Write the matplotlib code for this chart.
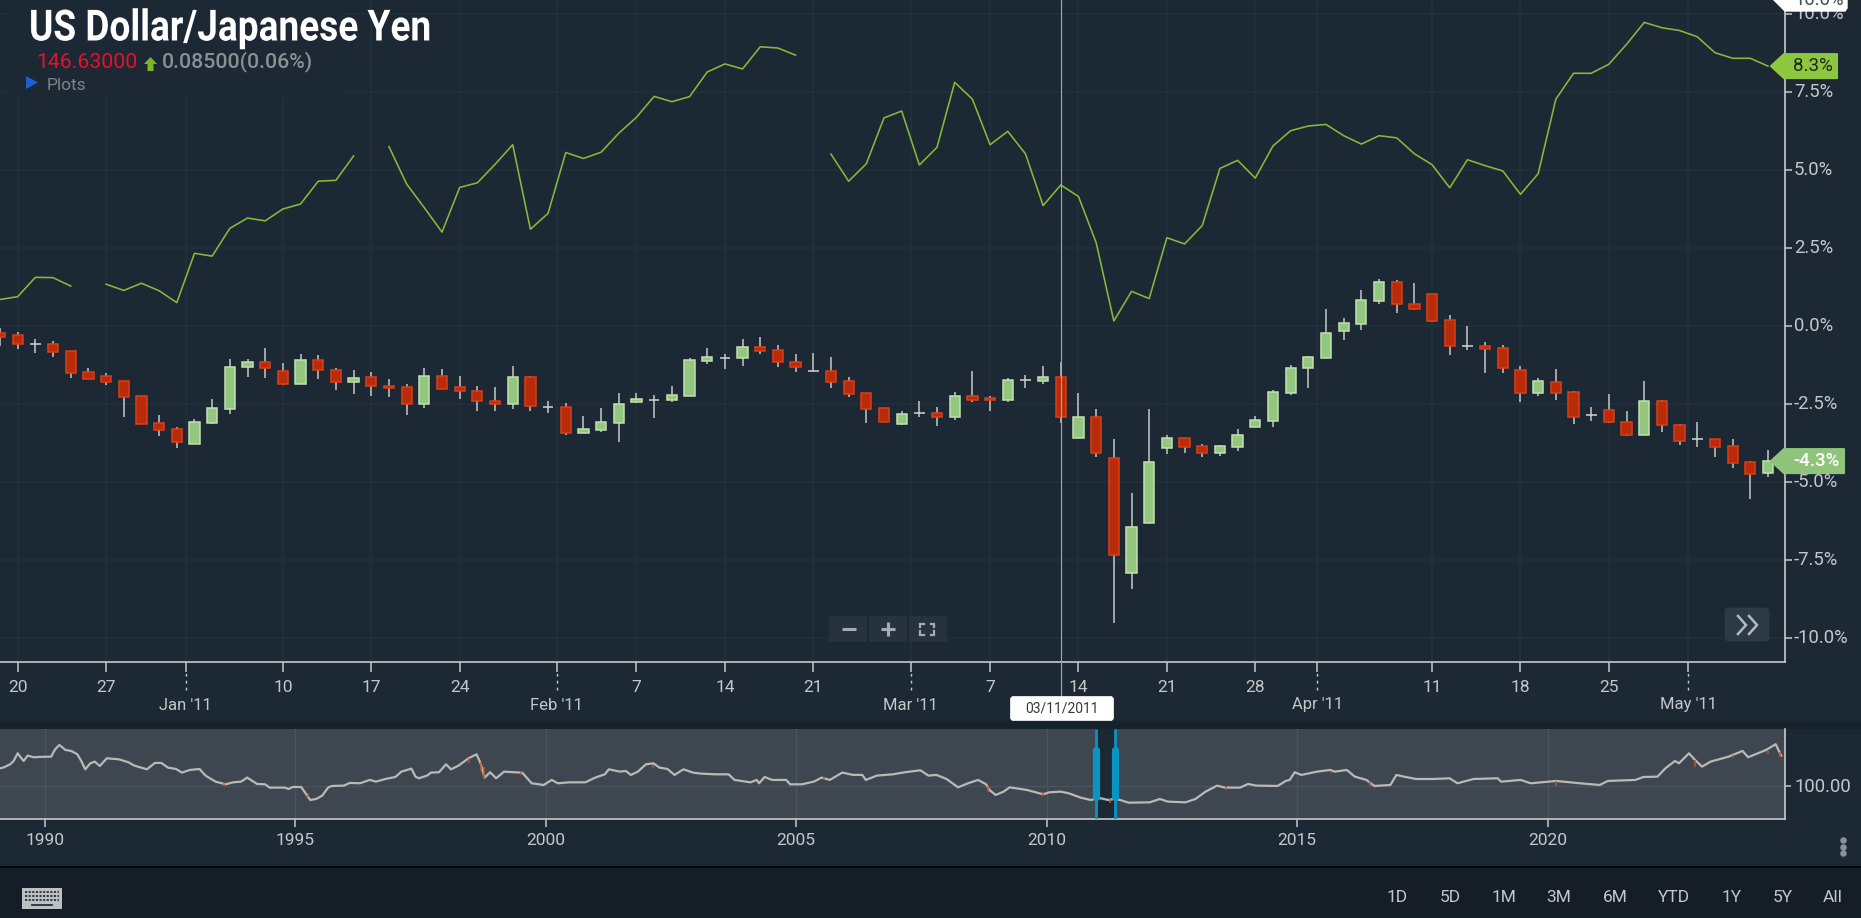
import numpy as np
import matplotlib
matplotlib.use('Agg')
import matplotlib.pyplot as plt
import matplotlib.patheffects as pe
from matplotlib.patches import Polygon, Rectangle, FancyBboxPatch
from matplotlib.transforms import Affine2D, ScaledTranslation

plt.rcParams['font.family'] = ['Roboto', 'DejaVu Sans']

# daily candles, percent change from start of the window
highs = [-.07,-.18,-.43,-.47,-.81,-1.34,-1.52,-1.77,-2.25,-2.86,
         -3.25,-2.97,-2.34,-1.05,-1.05,-.72,-1.20,-.91,-.94,-1.34,
         -1.42,-1.49,-1.71,-1.86,-1.34,-1.38,-1.61,-1.91,-1.97,-1.28,
         -1.61,-2.39,-2.47,-2.87,-2.64,-2.16,-2.16,-2.20,-1.91,-1.04,
         -.72,-.91,-.43,-.36,-.62,-.91,-.85,-1.00,-1.62,-2.16,
         -2.64,-2.74,-2.39,-2.59,-2.10,-1.43,-2.25,-1.68,-1.58,-1.29,
         -1.14,-2.16,-2.67,-3.63,-5.36,-2.67,-3.49,-3.60,-3.79,-3.81,
         -3.30,-2.87,-2.06,-1.24,-.95,.53,.26,1.16,1.50,1.46,
         1.37,1.01,.35,.01,-.52,-.62,-1.29,-1.68,-1.39,-2.09,
         -2.59,-2.19,-2.72,-1.76,-2.37,-3.15,-3.07,-3.61,-3.63,-4.33,
         -3.97]
lows = [-.64,-.75,-.88,-.98,-1.66,-1.71,-1.90,-2.91,-3.15,-3.54,
        -3.92,-3.77,-3.14,-2.81,-1.62,-1.66,-1.90,-1.85,-1.71,-2.04,
        -2.19,-2.23,-2.29,-2.86,-2.63,-2.03,-2.33,-2.71,-2.71,-2.67,
        -2.71,-2.78,-3.48,-3.44,-3.39,-3.73,-2.48,-2.96,-2.43,-2.23,
        -1.23,-1.37,-1.27,-.89,-1.32,-1.46,-1.45,-2.00,-2.29,-3.10,
        -3.09,-3.16,-2.91,-3.19,-3.00,-2.43,-2.71,-2.43,-2.00,-1.85,
        -3.10,-3.58,-4.21,-9.53,-8.44,-6.32,-4.11,-4.06,-4.21,-4.16,
        -4.02,-3.25,-3.25,-2.20,-2.00,-1.04,-.46,-.13,.69,.41,
        .50,.12,-.94,-.78,-1.52,-1.52,-2.43,-2.23,-2.38,-3.15,
        -3.06,-3.10,-3.53,-3.48,-3.39,-3.82,-3.87,-4.21,-4.54,-5.55,
        -4.83]
opens = [-.24,-.28,-.58,-.58,-.81,-1.49,-1.59,-1.77,-2.25,-3.12,
         -3.31,-3.77,-3.10,-2.66,-1.31,-1.15,-1.43,-1.85,-1.10,-1.40,
         -1.79,-1.62,-1.91,-1.97,-2.51,-1.59,-1.97,-2.07,-2.39,-2.51,
         -1.63,-2.60,-2.60,-3.43,-3.33,-3.10,-2.43,-2.36,-2.37,-2.23,
         -1.13,-1.01,-1.04,-.67,-.77,-1.15,-1.44,-1.43,-1.77,-2.16,
         -2.64,-3.15,-2.79,-2.78,-2.91,-2.25,-2.30,-2.37,-1.73,-1.75,
         -1.62,-3.58,-2.93,-4.22,-7.91,-6.32,-3.92,-3.60,-3.85,-4.06,
         -3.87,-3.25,-3.06,-2.14,-1.36,-1.04,-.16,.07,.79,1.40,
         .72,1.01,.20,-.64,-.63,-.72,-1.40,-2.14,-1.78,-2.12,
         -2.84,-2.69,-3.08,-3.48,-2.40,-3.17,-3.62,-3.61,-3.85,-4.36,
         -4.72]
closes = [-.36,-.59,-.58,-.83,-1.50,-1.70,-1.78,-2.28,-3.14,-3.33,
          -3.72,-3.08,-2.64,-1.30,-1.14,-1.36,-1.85,-1.10,-1.41,-1.79,
          -1.68,-1.93,-2.00,-2.51,-1.59,-2.03,-2.07,-2.41,-2.51,-1.63,
          -2.56,-2.60,-3.42,-3.31,-3.08,-2.50,-2.35,-2.36,-2.21,-1.10,
          -1.00,-1.01,-.66,-.79,-1.16,-1.31,-1.44,-1.79,-2.18,-2.66,
          -3.09,-2.83,-2.79,-2.91,-2.25,-2.37,-2.37,-1.72,-1.73,-1.62,
          -2.91,-2.93,-4.06,-7.33,-6.43,-4.37,-3.60,-3.87,-4.06,-3.85,
          -3.50,-3.02,-2.10,-1.35,-1.00,-.24,.11,.82,1.40,.71,
          .56,.17,-.64,-.64,-.74,-1.36,-2.14,-1.77,-2.14,-2.91,
          -2.84,-3.09,-3.48,-2.40,-3.18,-3.68,-3.62,-3.87,-4.39,-4.73,
          -4.33]

# comparison series, gaps on holidays
nan = np.nan
compare = [.85,.94,1.56,1.55,1.28,nan,1.34,1.14,1.37,1.13,
           .75,2.33,2.24,3.13,3.46,3.37,3.75,3.91,4.64,4.67,
           5.45,nan,5.75,4.55,3.79,3.01,4.44,4.59,5.18,5.81,
           3.10,3.61,5.56,5.37,5.57,6.18,6.69,7.36,7.19,7.35,
           8.14,8.40,8.24,8.95,8.91,8.68,nan,5.51,4.64,5.20,
           6.67,6.89,5.16,5.73,7.81,7.27,5.81,6.24,5.52,3.86,
           4.52,4.15,2.67,.16,1.11,.88,2.83,2.63,3.22,5.05,
           5.31,4.74,5.77,6.26,6.41,6.46,6.10,5.83,6.10,6.03,
           5.52,5.17,4.43,5.33,5.14,4.97,4.22,4.88,7.27,8.10,
           8.10,8.39,9.03,9.73,9.56,9.47,9.27,8.76,8.58,8.58,
           8.33]

week_pos = [1, 6, 16, 21, 26, 36, 41, 46, 56, 61, 66, 71, 81, 86, 91]
week_labels = ['20', '27', '10', '17', '24', '7', '14', '21', '7', '14', '21', '28', '11', '18', '25']
month_pos = [10.5, 31.5, 51.5, 74.5, 95.5]
month_labels = ["Jan '11", "Feb '11", "Mar '11", "Apr '11", "May '11"]
pct_ticks = [10, 7.5, 5, 2.5, 0, -2.5, -5, -7.5, -10]
cross_pos = 60

# long history strip
hist_years = [1989.11,1989.19,1989.31,1989.38,1989.46,1989.52,1989.58,1989.66,1989.78,1989.90,
              1990.13,1990.20,1990.29,1990.36,1990.41,1990.53,1990.65,1990.73,1990.81,1990.91,
              1991.00,1991.10,1991.24,1991.48,1991.67,1991.79,1992.04,1992.20,1992.33,1992.46,
              1992.62,1992.74,1992.90,1993.09,1993.21,1993.41,1993.61,1993.76,1993.92,1994.04,
              1994.24,1994.40,1994.49,1994.79,1994.87,1994.95,1995.12,1995.22,1995.30,1995.42,
              1995.54,1995.66,1995.74,1995.97,1996.09,1996.29,1996.49,1996.61,1996.80,1997.00,
              1997.12,1997.32,1997.40,1997.47,1997.63,1997.71,1997.87,1998.01,1998.11,1998.26,
              1998.46,1998.62,1998.70,1998.78,1998.89,1999.01,1999.17,1999.37,1999.53,1999.72,
              1999.96,2000.12,2000.24,2000.47,2000.79,2000.99,2001.18,2001.26,2001.48,2001.60,
              2001.70,2001.84,2002.00,2002.15,2002.27,2002.43,2002.57,2002.75,2002.94,2003.10,
              2003.38,2003.65,2003.77,2004.09,2004.21,2004.26,2004.37,2004.52,2004.80,2004.88,
              2005.11,2005.35,2005.51,2005.67,2005.92,2006.14,2006.32,2006.39,2006.61,2006.93,
              2007.17,2007.48,2007.64,2007.80,2008.00,2008.23,2008.43,2008.63,2008.79,2008.86,
              2008.98,2009.14,2009.26,2009.61,2009.93,2010.05,2010.28,2010.44,2010.68,2010.88,
              2010.96,2011.08,2011.23,2011.35,2011.47,2011.63,2012.06,2012.26,2012.42,2012.77,
              2012.97,2013.17,2013.40,2013.56,2013.86,2014.02,2014.18,2014.61,2014.77,2014.85,
              2014.95,2015.08,2015.40,2015.66,2015.75,2015.99,2016.15,2016.38,2016.54,2016.86,
              2016.98,2017.13,2017.37,2017.73,2018.04,2018.20,2018.52,2019.00,2019.07,2019.46,
              2019.66,2020.17,2020.65,2021.04,2021.20,2021.75,2021.91,2022.19,2022.35,2022.54,
              2022.62,2022.82,2022.94,2023.08,2023.25,2023.61,2023.89,2024.00,2024.36,2024.55,
              2024.66]
hist_price = [126.3,127.8,132.1,137.0,148.2,142.4,137.0,144.8,142.4,142.9,
              143.3,153.1,160.4,156.5,153.1,151.6,146.8,137.0,124.8,133.6,
              136.0,129.7,140.9,139.4,135.1,130.2,124.8,134.1,134.1,127.3,
              125.3,120.0,123.9,125.3,115.6,106.8,102.9,105.8,106.8,112.7,
              103.4,102.9,98.1,98.1,96.1,99.0,99.0,88.3,80.0,81.5,
              86.4,98.5,100.5,101.0,104.9,104.4,109.3,106.8,110.7,113.6,
              121.4,125.8,114.1,111.7,115.6,120.0,120.5,132.1,124.8,130.2,
              140.9,146.8,133.6,112.7,120.5,111.7,121.4,120.5,120.0,104.4,
              101.9,109.3,104.4,105.8,105.8,112.7,117.5,124.8,121.4,122.4,
              116.6,121.4,132.1,133.6,127.3,125.3,116.6,124.8,120.0,118.5,
              117.5,117.5,109.3,105.8,109.3,104.4,113.6,109.3,109.3,102.9,
              102.9,106.8,112.7,109.3,120.0,116.6,116.6,109.3,115.6,117.5,
              120.5,123.4,115.6,116.6,110.7,98.5,104.4,109.3,102.9,94.6,
              87.3,92.2,98.5,94.6,88.3,91.2,92.2,89.8,83.4,80.0,
              81.5,82.5,80.0,81.5,80.0,76.1,76.6,81.5,77.6,76.6,
              81.5,92.2,101.0,98.1,98.1,103.4,101.0,100.5,107.8,109.3,
              120.5,116.6,121.4,123.9,121.4,123.9,114.1,109.3,100.5,101.9,
              116.6,114.1,110.7,110.7,111.7,104.4,110.7,111.7,106.8,109.3,
              104.4,107.8,104.4,101.9,107.8,109.3,113.6,114.1,126.3,137.0,
              133.6,148.2,138.5,128.7,136.0,143.3,151.6,142.4,153.1,161.4,
              144.8]
# sharp down days on the strip
drop_years = [1993.57,1995.25,1998.46,1998.70,1998.76,1999.50,2002.15,2005.55,2008.82,2009.93,2011.26,2013.58,2015.68,2016.45,2020.17,2022.94,2023.70,2024.40,2024.64]
drop_hi = [106.0,90.0,141.0,136.0,128.0,122.0,131.0,113.0,100.0,92.0,81.0,101.0,123.0,108.0,108.0,138.0,146.0,152.0,150.0]
drop_lo = [100.0,85.0,134.0,122.0,112.0,116.0,126.0,110.0,92.0,87.0,76.0,94.0,119.0,101.0,100.0,128.0,142.0,147.0,143.0]
year_ticks = [1990, 1995, 2000, 2005, 2010, 2015, 2020]
window_years = [2010.99, 2011.37]

range_labels = ['1D', '5D', '1M', '3M', '6M', 'YTD', '1Y', '5Y', 'All']
range_x = [1397, 1450, 1504, 1559, 1615, 1674, 1732, 1783, 1833]

W, H = 1861, 918
PLOT_R = 1785
Y0, PX_PER_PCT = 326.0, 31.2   # pixel row of 0% and scale
BG = '#1c2935'
GRID = '#222f3c'
AXC = '#c6c9cb'
TXT = '#c4c7ca'

def val_px(v):
    return Y0 - v*PX_PER_PCT

class Squeeze(pe.AbstractPathEffect):
    # narrows drawn glyphs around a pixel column
    def __init__(self, sx, x0):
        super().__init__()
        self.sx = sx
        self.x0 = x0

    def draw_path(self, renderer, gc, tpath, affine, rgbFace=None):
        squeeze = Affine2D().translate(-self.x0, 0).scale(self.sx, 1).translate(self.x0, 0)
        renderer.draw_path(gc, tpath, affine + squeeze, rgbFace)

fig = plt.figure(figsize=(W/100, H/100), dpi=100, facecolor=BG)

def px_axes(z):
    a = fig.add_axes([0, 0, 1, 1], zorder=z)
    a.set_xlim(0, W)
    a.set_ylim(H, 0)
    a.axis('off')
    a.patch.set_alpha(0)
    return a

def lift_labels(labels, px):
    # tick label rows sit a little above their tick
    for lab in labels:
        lab.set_transform(lab.get_transform() + ScaledTranslation(0, px/100, fig.dpi_scale_trans))

bg = px_axes(-1)
bg.add_patch(Rectangle((0, 721), W, 8, color='#15212b', lw=0))
bg.add_patch(Rectangle((0, 866), W, 52, color='#151e27', lw=0))
bg.add_patch(Rectangle((0, 866), W, 1.6, color='#05090c', lw=0))

# main panel
ax = fig.add_axes([0, 1-662/H, PLOT_R/W, 662/H], zorder=1)
ax.patch.set_alpha(0)
ax.set_xlim(0, PLOT_R/17.68)
ax.set_ylim((Y0-662)/PX_PER_PCT, Y0/PX_PER_PCT)
ax.set_axisbelow(True)
for s in ['top', 'left']:
    ax.spines[s].set_visible(False)
for s in ['right', 'bottom']:
    ax.spines[s].set_color(AXC)
    ax.spines[s].set_linewidth(1.2)

ax.yaxis.tick_right()
ax.set_yticks(pct_ticks)
ax.set_yticklabels(['%.1f%%' % v for v in pct_ticks])
ax.tick_params(axis='y', length=5, width=1.1, color=AXC, labelcolor=TXT, labelsize=13.3, pad=1.5)
ax.set_xticks(week_pos + month_pos)
ax.set_xticklabels(week_labels + ['']*len(month_pos))
ax.tick_params(axis='x', length=7, width=1.1, color=AXC, labelcolor=TXT, labelsize=12.5, pad=6)
ax.grid(True, color=GRID, lw=1.1)
lift_labels(ax.get_yticklabels(), 2)

# grid stays clear behind the header block
ax.add_patch(Rectangle((8/17.68, Y0/PX_PER_PCT-98/PX_PER_PCT), 336/17.68, 98/PX_PER_PCT, color=BG, lw=0, zorder=1))

for m, lab in zip(month_pos, month_labels):
    ax.text(m, -(705-662)/662, lab, transform=ax.get_xaxis_transform(), ha='center', va='center',
            color=TXT, fontsize=12, clip_on=False)
    ax.plot([m, m], [-0.043, -0.012], transform=ax.get_xaxis_transform(), color=AXC, lw=1,
            ls=(0, (2, 3)), clip_on=False)

idx = np.arange(len(closes))
o = np.array(opens)
c = np.array(closes)
up = c > o
down = c < o
flat = c == o

ax.vlines(idx, lows, highs, color='#c9c9c9', lw=1.1, zorder=3)
ax.bar(idx[down], (o-c)[down], bottom=c[down], width=0.58, color='#b82c0a', edgecolor='#de3d18', lw=1.1, zorder=4)
ax.bar(idx[up], (c-o)[up], bottom=o[up], width=0.58, color='#93c67e', edgecolor='#c2dfb0', lw=1.1, zorder=4)
ax.hlines(c[flat], idx[flat]-0.3, idx[flat]+0.3, color='#d4d4d4', lw=1.1, zorder=4)

ax.plot(idx, compare, color='#86b93a', lw=1.15, zorder=3)
ax.plot([cross_pos, cross_pos], [-0.06, 1], transform=ax.get_xaxis_transform(), color='#a4aaaf', lw=0.8,
        clip_on=False, zorder=5)

# history strip
nav = fig.add_axes([0, 1-819/H, PLOT_R/W, 90/H], zorder=1)
nav.set_facecolor('#3e4650')
nav.set_xlim(1990-44.7/50.1, 1990+(PLOT_R-44.7)/50.1)
nav.set_ylim(100+(786.3-819)*1.46, 100+(786.3-729)*1.46)
nav.set_axisbelow(True)
for s in ['top', 'left']:
    nav.spines[s].set_visible(False)
for s in ['right', 'bottom']:
    nav.spines[s].set_color(AXC)
    nav.spines[s].set_linewidth(1.2)
nav.set_xticks(year_ticks)
nav.set_xticklabels([str(y) for y in year_ticks])
nav.tick_params(axis='x', length=6, width=1.1, color=AXC, labelcolor=TXT, labelsize=12.5, pad=4)
nav.yaxis.tick_right()
nav.set_yticks([100])
nav.set_yticklabels(['100.00'])
nav.tick_params(axis='y', length=4, width=1.1, color=AXC, labelcolor=TXT, labelsize=13.3, pad=3)
nav.grid(True, color='#4a545e', lw=1)
lift_labels(nav.get_yticklabels(), 1)
nav.axvspan(window_years[0], window_years[1], color=BG, lw=0, zorder=1)
nav.plot(hist_years, hist_price, color='#b9b9b6', lw=1.6, zorder=3)
nav.vlines(drop_years, drop_lo, drop_hi, color='#c9502c', lw=1.1, zorder=4)
nav.vlines(window_years, 0, 1, transform=nav.get_xaxis_transform(), color='#0a94c2', lw=2, zorder=5)
nav.vlines(window_years, 0.24, 0.77, transform=nav.get_xaxis_transform(), color='#0a94c2', lw=5.2,
           capstyle='round', zorder=5)

# header, flags and chart controls
ov = px_axes(5)
title = ov.text(29, 29, 'US Dollar/Japanese Yen', color='white', fontsize=31, fontweight='bold',
                ha='left', va='center')
title.set_path_effects([Squeeze(0.86, 29)])
ov.text(36, 62, '146.63000', color='#e8112d', fontsize=15.3, ha='left', va='center')
ov.add_patch(Polygon([(150.5, 57), (157, 64), (153.5, 64), (153.5, 71), (147.5, 71), (147.5, 64), (144, 64)],
                     closed=True, color='#7cb51f', lw=0))
ov.text(162, 62, '0.08500(0.06%)', color='#8b9095', fontsize=15.3, fontweight='medium', ha='left', va='center')
ov.add_patch(Polygon([(26, 76), (38, 82.5), (26, 89)], closed=True, color='#1f5fd6', lw=0))
ov.text(47, 85, 'Plots', color='#7d8388', fontsize=12.5, ha='left', va='center')

def flag(val, right, fill, tcol, weight='normal'):
    y = val_px(val)
    ov.add_patch(Polygon([(1771, y), (1784, y-12), (right, y-12), (right, y+12), (1784, y+12)], closed=True,
                         facecolor=fill, edgecolor=fill, lw=1.5, joinstyle='round', zorder=6))
    ov.text(1793, y-0.5, '%.1f%%' % val, color=tcol, fontsize=13.5, fontweight=weight, ha='left', va='center', zorder=7)

flag(compare[-1], 1837, '#8dc63f', '#1d2a16')
flag(closes[-1], 1844, '#90c47a', 'white', 'medium')

# value tag of the hovered point, cut by the top edge
ov.add_patch(Polygon([(1772, -2), (1785, 11), (1845, 11), (1847, 8), (1847, -2)], closed=True,
                     facecolor='white', edgecolor='white', lw=1, zorder=6))
ov.text(1794, 0, '10.0%', color='#444b52', fontsize=13.3, ha='left', va='center', zorder=7)

ov.add_patch(FancyBboxPatch((1012, 698), 100, 21, boxstyle='round,pad=1.5,rounding_size=3', facecolor='white',
                            edgecolor='white', lw=0.5, zorder=6))
ov.text(1061.5, 708.5, '03/11/2011', color='#333a40', fontsize=10, ha='center', va='center', zorder=7)

# zoom buttons
for x0 in [829, 869, 909]:
    ov.add_patch(Rectangle((x0, 616), 38, 26, color='#26333f', lw=0, zorder=2))
ov.plot([842, 856], [629, 629], color='#a6abb0', lw=2.2, solid_capstyle='butt')
ov.plot([881, 895], [629, 629], color='#a6abb0', lw=2.2, solid_capstyle='butt')
ov.plot([888, 888], [622, 636], color='#a6abb0', lw=2.2, solid_capstyle='butt')
for sx, sy in [(-1, -1), (1, -1), (-1, 1), (1, 1)]:
    ov.plot([927+sx*3.5, 927+sx*7, 927+sx*7], [629+sy*5.5, 629+sy*5.5, 629+sy*2], color='#a6abb0', lw=1.6,
            solid_joinstyle='miter')

# collapse button
ov.add_patch(FancyBboxPatch((1726, 609), 42, 31, boxstyle='round,pad=1,rounding_size=3', facecolor='#2c3a47',
                            edgecolor='#2c3a47', lw=0.5, zorder=2))
for dx in [0, 11]:
    ov.plot([1738+dx, 1746+dx, 1738+dx], [616, 625, 634], color='#b4b9bd', lw=1.8, solid_joinstyle='miter')

# menu dots
ov.scatter([1843, 1843, 1843], [840, 847, 853], s=22, color='#8a9095', lw=0)

# keyboard icon
ov.add_patch(Rectangle((22, 888), 40, 21, color='#bcc0c3', lw=0))
for ry in [892, 896, 900]:
    ov.plot([25, 59], [ry, ry], color='#27313a', lw=1.3, ls=(0, (1.2, 0.8)))
ov.plot([32, 52], [905, 905], color='#27313a', lw=1.3)

for x, lab in zip(range_x, range_labels):
    ov.text(x, 897.5, lab, color=TXT, fontsize=12.5, ha='center', va='center')

fig.savefig('out.png', dpi=100, facecolor=BG)
